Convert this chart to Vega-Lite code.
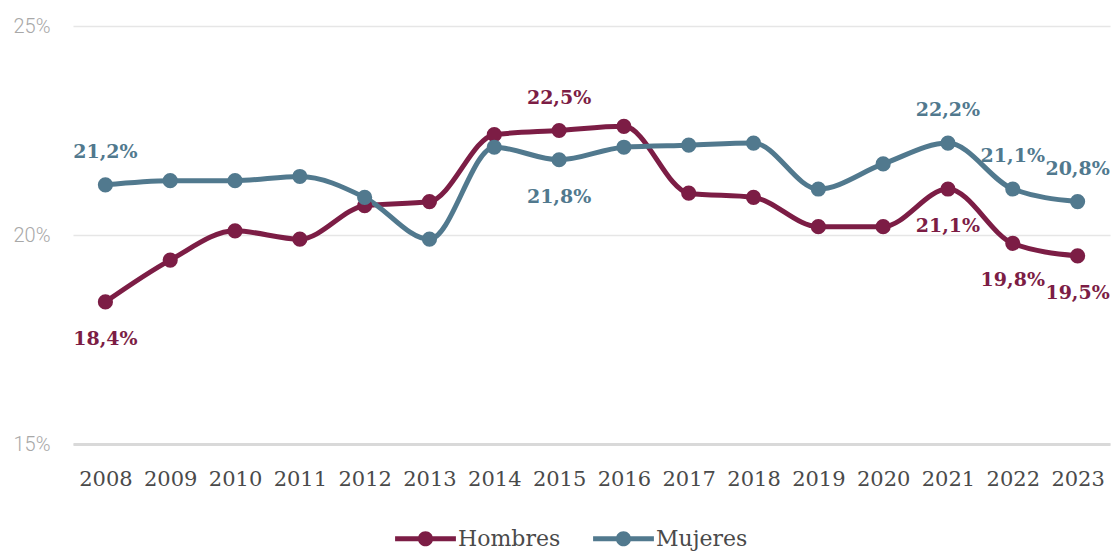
{
  "$schema": "https://vega.github.io/schema/vega-lite/v6.json",
  "width": 1037,
  "height": 418,
  "autosize": {"type": "none"},
  "padding": {"left": 73, "top": 26, "right": 6, "bottom": 107},
  "background": "white",
  "config": {
    "locale": {"number": {"decimal": ",", "thousands": ".", "grouping": [3], "currency": ["", " €"]}},
    "view": {"stroke": null},
    "font": "DejaVu Serif"
  },
  "data": {
    "values": [
      {"year": 2008, "serie": "Hombres", "v": 0.184},
      {"year": 2009, "serie": "Hombres", "v": 0.194},
      {"year": 2010, "serie": "Hombres", "v": 0.201},
      {"year": 2011, "serie": "Hombres", "v": 0.199},
      {"year": 2012, "serie": "Hombres", "v": 0.207},
      {"year": 2013, "serie": "Hombres", "v": 0.208},
      {"year": 2014, "serie": "Hombres", "v": 0.224},
      {"year": 2015, "serie": "Hombres", "v": 0.225},
      {"year": 2016, "serie": "Hombres", "v": 0.226},
      {"year": 2017, "serie": "Hombres", "v": 0.210},
      {"year": 2018, "serie": "Hombres", "v": 0.209},
      {"year": 2019, "serie": "Hombres", "v": 0.202},
      {"year": 2020, "serie": "Hombres", "v": 0.202},
      {"year": 2021, "serie": "Hombres", "v": 0.211},
      {"year": 2022, "serie": "Hombres", "v": 0.198},
      {"year": 2023, "serie": "Hombres", "v": 0.195},
      {"year": 2008, "serie": "Mujeres", "v": 0.212},
      {"year": 2009, "serie": "Mujeres", "v": 0.213},
      {"year": 2010, "serie": "Mujeres", "v": 0.213},
      {"year": 2011, "serie": "Mujeres", "v": 0.214},
      {"year": 2012, "serie": "Mujeres", "v": 0.209},
      {"year": 2013, "serie": "Mujeres", "v": 0.199},
      {"year": 2014, "serie": "Mujeres", "v": 0.221},
      {"year": 2015, "serie": "Mujeres", "v": 0.218},
      {"year": 2016, "serie": "Mujeres", "v": 0.221},
      {"year": 2017, "serie": "Mujeres", "v": 0.2215},
      {"year": 2018, "serie": "Mujeres", "v": 0.222},
      {"year": 2019, "serie": "Mujeres", "v": 0.211},
      {"year": 2020, "serie": "Mujeres", "v": 0.217},
      {"year": 2021, "serie": "Mujeres", "v": 0.222},
      {"year": 2022, "serie": "Mujeres", "v": 0.211},
      {"year": 2023, "serie": "Mujeres", "v": 0.208}
    ]
  },
  "encoding": {
    "x": {
      "field": "year", "type": "ordinal",
      "scale": {"type": "point", "padding": 0.5},
      "axis": {
        "title": null, "labelAngle": 0, "ticks": false,
        "domain": true, "domainColor": "#d9d9d9", "domainWidth": 3,
        "labelFont": "DejaVu Serif", "labelFontSize": 21, "labelColor": "#4a4a4a",
        "labelPadding": 24
      }
    },
    "y": {
      "field": "v", "type": "quantitative",
      "scale": {"domain": [0.15, 0.25], "nice": false, "zero": false},
      "axis": {
        "title": null, "values": [0.15, 0.2, 0.25], "format": ".0%",
        "domain": false, "ticks": false, "grid": true,
        "gridColor": "#e6e6e6", "gridWidth": 1.5,
        "labelFont": "Roboto", "labelFontWeight": 300, "labelFontSize": 20,
        "labelColor": "#a8a8a8", "labelPadding": 23
      }
    },
    "color": {
      "field": "serie", "type": "nominal",
      "scale": {"domain": ["Hombres", "Mujeres"], "range": ["#7c1d45", "#51798e"]},
      "legend": {
        "title": null, "orient": "none", "direction": "horizontal",
        "legendX": 322, "legendY": 482,
        "symbolType": "M-1,-0.08L1,-0.08L1,0.08L-1,0.08Z M0.25,0A0.25,0.25,0,1,1,-0.25,0A0.25,0.25,0,1,1,0.25,0Z",
        "symbolSize": 3700,
        "symbolStrokeWidth": 0,
        "labelFont": "DejaVu Serif", "labelFontSize": 22, "labelColor": "#4a4a4a",
        "labelOffset": 2, "columnPadding": 32
      }
    }
  },
  "layer": [
    {
      "mark": {"type": "line", "interpolate": "monotone", "strokeWidth": 5},
      "encoding": {}
    },
    {
      "mark": {"type": "point", "filled": true, "size": 230, "opacity": 1},
      "encoding": {}
    },
    {
      "transform": [
        {"filter": "(datum.serie == 'Hombres' && datum.year == 2015) || (datum.serie == 'Mujeres' && indexof([2008, 2021, 2022, 2023], datum.year) >= 0)"}
      ],
      "mark": {"type": "text", "fontWeight": "bold", "fontSize": 19, "dy": -33, "font": "DejaVu Serif"},
      "encoding": {"text": {"field": "v", "type": "quantitative", "format": ".1%"}}
    },
    {
      "transform": [
        {"filter": "(datum.serie == 'Mujeres' && datum.year == 2015) || (datum.serie == 'Hombres' && indexof([2008, 2021, 2022, 2023], datum.year) >= 0)"}
      ],
      "mark": {"type": "text", "fontWeight": "bold", "fontSize": 19, "dy": 37, "font": "DejaVu Serif"},
      "encoding": {"text": {"field": "v", "type": "quantitative", "format": ".1%"}}
    }
  ]
}
